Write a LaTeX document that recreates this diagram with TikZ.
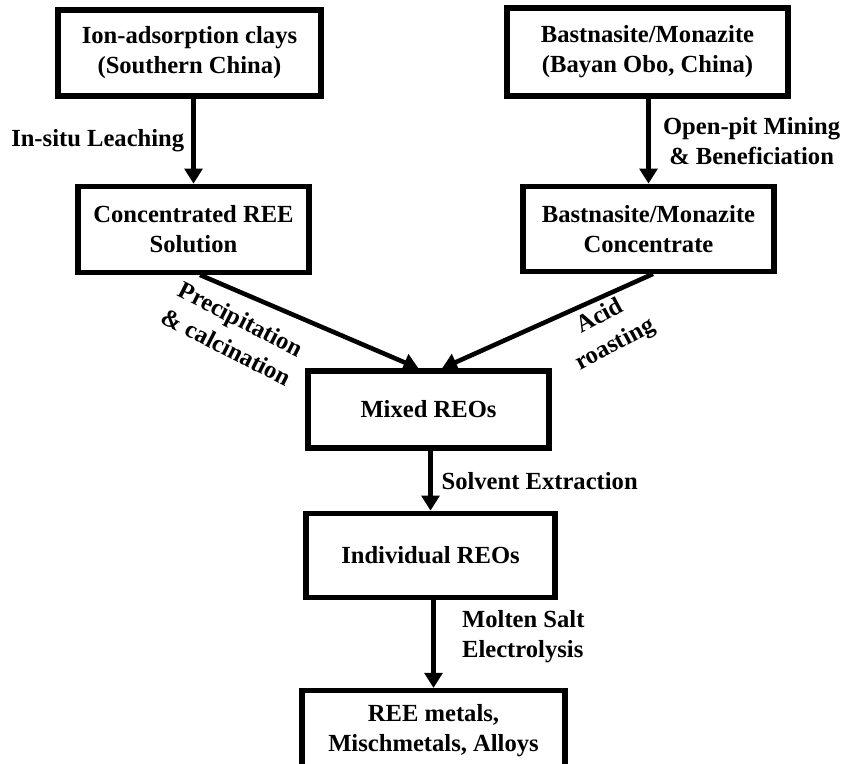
\documentclass[tikz,border=0pt]{standalone}
\usepackage{fontspec}
\setmainfont{Liberation Serif}
\usetikzlibrary{arrows.meta, positioning}

\begin{document}
\begin{tikzpicture}[
          box/.style={rectangle, draw=black, line width=3pt, fill=white,
                      align=center, font=\fontsize{14}{17}\selectfont\bfseries,
                      inner sep=2pt},
          arr/.style={-{Triangle[length=8.5pt, width=10pt]}, line width=2.6pt},
          lbl/.style={font=\fontsize{14}{17}\selectfont\bfseries, inner sep=1pt},
        ]
          \useasboundingbox (0,0) rectangle (16.84,-15.26);
          % sources
          \node[box, minimum width=5.26cm, minimum height=1.72cm] (ion) at (3.79,-1.06)
               {Ion-adsorption clays\\(Southern China)};
          \node[box, minimum width=5.62cm, minimum height=1.76cm] (bay) at (12.95,-1.04)
               {Bastnasite/Monazite\\(Bayan Obo, China)};
          \node[box, below=1.7cm of ion, xshift=0.08cm, minimum width=4.62cm,
                minimum height=1.72cm] (sol) {Concentrated REE\\Solution};
          \node[box, below=1.7cm of bay, xshift=0.02cm, minimum width=5.02cm,
                minimum height=1.7cm] (conc) {Bastnasite/Monazite\\Concentrate};
          % main line
          \node[box, minimum width=4.82cm, minimum height=1.54cm] (mix) at (8.57,-8.19)
               {Mixed REOs};
          \node[box, below=1.2cm of mix, xshift=0.04cm, minimum width=4.98cm,
                minimum height=1.68cm] (ind) {Individual REOs};
          \node[box, below=1.76cm of ind, xshift=0.06cm, minimum width=5.26cm,
                minimum height=1.6cm] (met) {REE metals,\\Mischmetals, Alloys};
          % arrows
          \draw[arr] (ion.south -| sol.north) -- node[lbl, left=3pt]{In-situ Leaching} (sol.north);
          \draw[arr] (bay.south -| conc.north) -- node[lbl, right=6pt, align=center]
               {Open-pit Mining\\\& Beneficiation} (conc.north);
          \draw[arr] ([xshift=0.13cm]sol.south) -- ([xshift=-0.2cm]mix.north);
          \draw[arr] ([xshift=0.09cm]conc.south) -- ([xshift=0.27cm]mix.north);
          \node[lbl, align=center, rotate=-27, font=\fontsize{14}{18}\selectfont\bfseries]
               (pc) at (4.68,-6.66) {Precipitation\\\& calcination};
          \node[lbl, align=center, rotate=28, font=\fontsize{14}{18}\selectfont\bfseries]
               (ar) at (12.16,-6.62) {Acid\\roasting};
          \draw[arr] (mix.south -| ind.north) -- node[lbl, right=4pt]{Solvent Extraction} (ind.north);
          \draw[arr] (ind.south -| met.north) -- node[lbl, right=14pt, pos=0.42, align=left]
               {Molten Salt\\Electrolysis} (met.north);
        \end{tikzpicture}
\end{document}
